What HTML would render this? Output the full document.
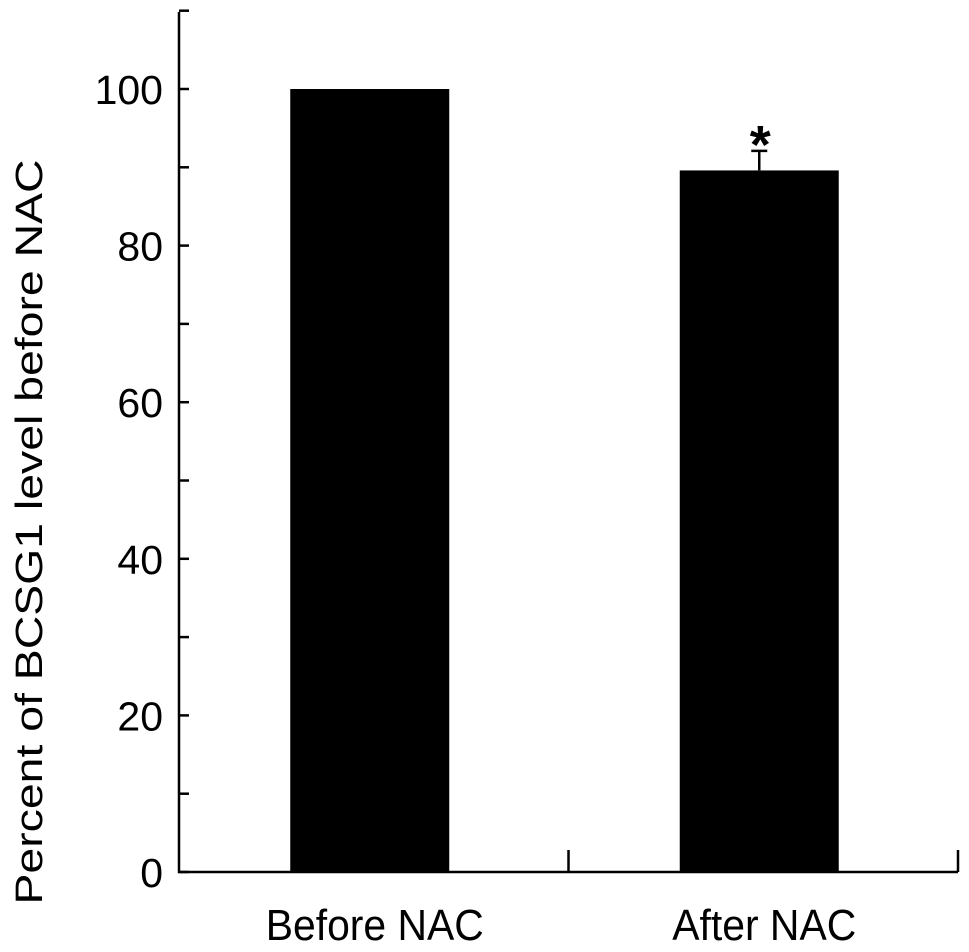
<!DOCTYPE html>
<html><head><meta charset="utf-8"><style>
html,body{margin:0;padding:0;background:#fff}
svg{display:block;font-family:"Liberation Sans",Arial,sans-serif}
</style></head><body>
<svg id="chart" width="969" height="952"></svg>
<script>
const categories = ["Before NAC", "After NAC"];
const values = [100, 89.6];
const errors = [0, 2.5];
const significance = ["", "*"];
const yTickLabels = [0, 20, 40, 60, 80, 100];
const yMinorTicks = [10, 30, 50, 70, 90, 110];

const NS = "http://www.w3.org/2000/svg";
const svg = document.getElementById("chart");
const x0 = 179, x1 = 958, yBase = 872, yTop100 = 89;
function y(v){ return yBase - (yBase - yTop100) * v / 100; }
const groupW = (x1 - x0) / categories.length;
function xc(i){ return x0 + groupW * (i + 0.5) - 4; }
const barW = 159;
const labelW = [218, 184];
function el(tag, attrs){ const e = document.createElementNS(NS, tag); for (const k in attrs) e.setAttribute(k, attrs[k]); svg.appendChild(e); return e; }

categories.forEach((c, i) => {
  const b = el("rect", {x: xc(i) - barW/2, y: y(values[i]), width: barW, height: yBase - y(values[i]), fill: "#000"});
  
  
  if (errors[i] > 0) {
    const ey = y(values[i] + errors[i]);
    const l = el("path", {d: `M${xc(i)} ${y(values[i])}V${ey}M${xc(i)-8} ${ey}H${xc(i)+8}`, stroke: "#000", "stroke-width": 2.5, fill: "none"});
    
    
  }
  if (significance[i]) {
    const s = el("text", {x: xc(i) + 1, y: y(values[i] + errors[i]) + 12, "text-anchor": "middle", "font-size": 54, "font-weight": "bold"});
    s.textContent = significance[i];
    
    
  }
  const t = el("text", {x: xc(i) + 5, y: 940, "text-anchor": "middle", "font-size": 44, textLength: labelW[i], lengthAdjust: "spacingAndGlyphs"});
  t.textContent = c;
  
  
});

const ax = el("path", {d: `M${x0} 12V${yBase}H${x1}`, stroke: "#000", "stroke-width": 2.5, fill: "none"});


for (let i = 1; i <= categories.length; i++) {
  const tk = el("line", {x1: x0 + groupW*i, x2: x0 + groupW*i, y1: yBase - 22, y2: yBase, stroke: "#000", "stroke-width": 2.5});
  
  
}
yTickLabels.forEach(v => {
  const tk = el("line", {x1: x0, x2: x0 + 10, y1: y(v), y2: y(v), stroke: "#000", "stroke-width": 2.5});
  
  
  const t = el("text", {x: 163, y: y(v) + 15, "text-anchor": "end", "font-size": 41});
  t.textContent = v;
  
  
});
yMinorTicks.forEach(v => {
  const tk = el("line", {x1: x0, x2: x0 + 10, y1: y(v), y2: y(v), stroke: "#000", "stroke-width": 2.5});
  
  
});
const yt = el("text", {transform: "translate(42,532) rotate(-90)", "text-anchor": "middle", "font-size": 38, textLength: 745, lengthAdjust: "spacingAndGlyphs"});
yt.textContent = "Percent of BCSG1 level before NAC";


</script>
</body></html>
